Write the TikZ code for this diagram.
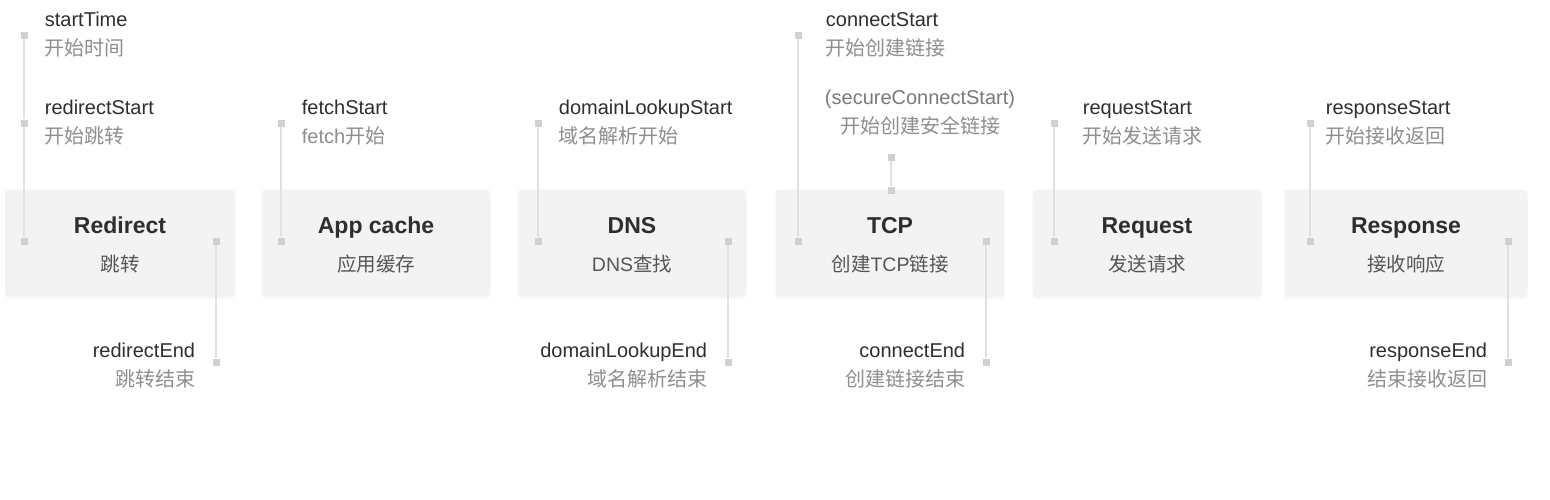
\documentclass[tikz,border=0pt]{standalone}
\usepackage{fontspec}
\setmainfont{Liberation Sans}
\newfontfamily\cjk{Noto Sans CJK SC}
\usetikzlibrary{positioning,shadows}

\definecolor{boxgray}{HTML}{F3F3F3}
\definecolor{railgray}{HTML}{E1E1E1}
\definecolor{markgray}{HTML}{D0D0D0}
\definecolor{namegray}{HTML}{2E2E2E}
\definecolor{cngray}{HTML}{8E8E8E}
\definecolor{subgray}{HTML}{555555}

\begin{document}
\begin{tikzpicture}[x=1pt,y=-1pt,
	stage/.style={fill=boxgray,rounded corners=4pt,minimum height=107pt,inner sep=0pt,drop shadow={opacity=0.05,shadow xshift=0pt,shadow yshift=-3pt}},
	headline/.style={font=\fontsize{23}{26}\selectfont\bfseries,text=namegray,inner sep=0pt,anchor=base},
	subline/.style={font=\fontsize{19.5}{22}\selectfont,text=subgray,inner sep=0pt,anchor=base},
	tickmark/.style={fill=markgray,minimum size=7pt,inner sep=0pt},
	rail/.style={draw=railgray,line width=2.2pt},
	caption/.style={font=\fontsize{20}{29}\selectfont,text=namegray,inner sep=0pt,align=left},
	endcaption/.style={caption,align=right,yshift=-4pt}]
	\useasboundingbox (0,0) rectangle (1550,499);
	\node[stage,minimum width=230pt] (redirect) at (120,243) {};
	\node[stage,minimum width=229pt] (appcache) at (376,243) {};
	\node[stage,minimum width=229pt] (dns) at (632,243) {};
	\node[stage,minimum width=229pt] (tcp) at (890,243) {};
	\node[stage,minimum width=229pt] (request) at (1147,243) {};
	\node[stage,minimum width=243pt] (response) at (1406,243) {};
	\node[headline] (redirect-t) at ([yshift=10pt]redirect.center) {Redirect};
	\node[subline] (redirect-s) at ([yshift=-28pt]redirect.center) {\cjk 跳转};
	\node[headline] (appcache-t) at ([yshift=10pt]appcache.center) {App cache};
	\node[subline] (appcache-s) at ([yshift=-28pt]appcache.center) {\cjk 应用缓存};
	\node[headline] (dns-t) at ([yshift=10pt]dns.center) {DNS};
	\node[subline] (dns-s) at ([yshift=-28pt]dns.center) {DNS{\cjk 查找}};
	\node[headline] (tcp-t) at ([yshift=10pt]tcp.center) {TCP};
	\node[subline] (tcp-s) at ([yshift=-28pt]tcp.center) {{\cjk 创建}TCP{\cjk 链接}};
	\node[headline] (request-t) at ([yshift=10pt]request.center) {Request};
	\node[subline] (request-s) at ([yshift=-28pt]request.center) {\cjk 发送请求};
	\node[headline] (response-t) at ([yshift=10pt]response.center) {Response};
	\node[subline] (response-s) at ([yshift=-28pt]response.center) {\cjk 接收响应};
	\node[tickmark] (starttime) at (24,35) {};
	\node[tickmark] (redirectstart) at (24,123) {};
	\node[tickmark] (redirectin) at (24,241) {};
	\node[tickmark] (redirectout) at (216,241) {};
	\node[tickmark] (redirectend) at (216,362) {};
	\node[tickmark] (fetchstart) at (281,123) {};
	\node[tickmark] (appcachein) at (281,241) {};
	\node[tickmark] (lookupstart) at (538,123) {};
	\node[tickmark] (dnsin) at (538,241) {};
	\node[tickmark] (dnsout) at (728,241) {};
	\node[tickmark] (lookupend) at (728,362) {};
	\node[tickmark] (connectstart) at (798,35) {};
	\node[tickmark] (secureconnect) at (891,157) {};
	\node[tickmark] (tcptop) at (891,190) {};
	\node[tickmark] (tcpin) at (798,241) {};
	\node[tickmark] (tcpout) at (986,241) {};
	\node[tickmark] (connectend) at (986,362) {};
	\node[tickmark] (requeststart) at (1054,123) {};
	\node[tickmark] (requestin) at (1054,241) {};
	\node[tickmark] (responsestart) at (1310,123) {};
	\node[tickmark] (responsein) at (1310,241) {};
	\node[tickmark] (responseout) at (1508,241) {};
	\node[tickmark] (responseend) at (1508,362) {};
	\draw[rail] (starttime) -- (redirectstart) -- (redirectin);
	\draw[rail] (redirectout) -- (redirectend);
	\draw[rail] (fetchstart) -- (appcachein);
	\draw[rail] (lookupstart) -- (dnsin);
	\draw[rail] (dnsout) -- (lookupend);
	\draw[rail] (connectstart) -- (tcpin);
	\draw[rail] (secureconnect) -- (tcptop);
	\draw[rail] (tcpout) -- (connectend);
	\draw[rail] (requeststart) -- (requestin);
	\draw[rail] (responsestart) -- (responsein);
	\draw[rail] (responseout) -- (responseend);
	\node[caption,right=17pt of starttime] (starttime-l) {startTime\\{\cjk\color{cngray}开始时间}};
	\node[caption,right=17pt of redirectstart] (redirectstart-l) {redirectStart\\{\cjk\color{cngray}开始跳转}};
	\node[endcaption,left=17pt of redirectend] (redirectend-l) {redirectEnd\\{\cjk\color{cngray}跳转结束}};
	\node[caption,right=17pt of fetchstart] (fetchstart-l) {fetchStart\\{\color{cngray}fetch{\cjk 开始}}};
	\node[caption,right=17pt of lookupstart] (lookupstart-l) {domainLookupStart\\{\cjk\color{cngray}域名解析开始}};
	\node[endcaption,left=17pt of lookupend] (lookupend-l) {domainLookupEnd\\{\cjk\color{cngray}域名解析结束}};
	\node[caption,right=24pt of connectstart] (connectstart-l) {connectStart\\{\cjk\color{cngray}开始创建链接}};
	\node[caption,align=center,text=cngray!85!black] (secureconnect-l) at (920,113) {(secureConnectStart)\\{\cjk\color{cngray}开始创建安全链接}};
	\node[endcaption,left=17pt of connectend] (connectend-l) {connectEnd\\{\cjk\color{cngray}创建链接结束}};
	\node[caption,right=25pt of requeststart] (requeststart-l) {requestStart\\{\cjk\color{cngray}开始发送请求}};
	\node[caption,right=12pt of responsestart] (responsestart-l) {responseStart\\{\cjk\color{cngray}开始接收返回}};
	\node[endcaption,left=17pt of responseend] (responseend-l) {responseEnd\\{\cjk\color{cngray}结束接收返回}};
\end{tikzpicture}
\end{document}
